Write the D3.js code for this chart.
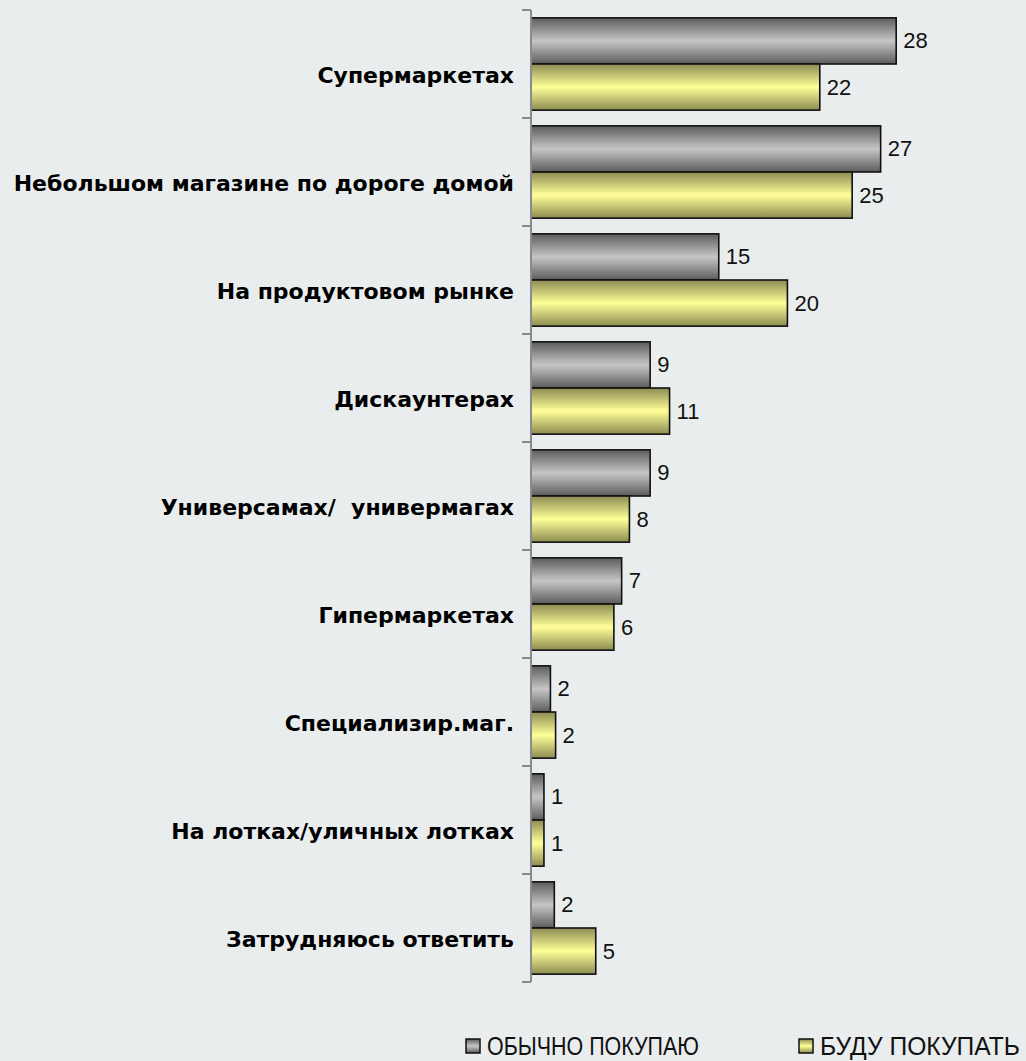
<!DOCTYPE html>
<html><head><meta charset="utf-8">
<script src="https://cdn.jsdelivr.net/npm/d3@7/dist/d3.min.js"></script>
<style>
html,body{margin:0;padding:0;background:#e9edee;}
svg{display:block;}
</style></head>
<body>
<script>
const categories = ["Супермаркетах","Небольшом магазине по дороге домой","На продуктовом рынке","Дискаунтерах","Универсамах/  универмагах","Гипермаркетах","Специализир.маг.","На лотках/уличных лотках","Затрудняюсь ответить"];
const seriesNames = ["ОБЫЧНО ПОКУПАЮ","БУДУ ПОКУПАТЬ"];
// bar lengths (labels show them rounded)
const usuallyBuy = [28.2,27.0,14.5,9.2,9.2,7.0,1.5,1.0,1.8];
const willBuy = [22.3,24.8,19.8,10.7,7.6,6.4,1.9,1.0,5.0];

const W = 1026, H = 1061;
const svg = d3.select("body").append("svg").attr("width", W).attr("height", H);

const defs = svg.append("defs");
function grad(id, edge, mid){
  const g = defs.append("linearGradient").attr("id", id).attr("x1",0).attr("y1",0).attr("x2",0).attr("y2",1);
  g.append("stop").attr("offset","0%").attr("stop-color",edge);
  g.append("stop").attr("offset","50%").attr("stop-color",mid);
  g.append("stop").attr("offset","100%").attr("stop-color",edge);
}
grad("gGray","#5c5c5c","#c6c6c6");
grad("gYellow","#8c8c52","#ffff99");
const fills = ["url(#gGray)","url(#gYellow)"];

const x0 = 531;
const x = d3.scaleLinear().domain([0, 30]).range([x0, 919.5]);
const y = d3.scaleBand().domain(categories).range([10, 982]).paddingInner(0).paddingOuter(0);
const inner = d3.scaleBand().domain([0,1]).range([0, y.bandwidth()]).paddingInner(0).paddingOuter(0.17);

const rows = categories.map((c,i)=>({c, v:[usuallyBuy[i], willBuy[i]]}));

const g = svg.append("g");
const grp = g.selectAll("g.row").data(rows).join("g").attr("class","row")
  .attr("transform", d=>`translate(0,${y(d.c)})`);

grp.selectAll("rect").data(d=>d.v.map((v,k)=>({v,k}))).join("rect")
  .attr("x", x(0))
  .attr("y", d=>inner(d.k))
  .attr("width", d=>x(d.v)-x(0))
  .attr("height", inner.bandwidth())
  .attr("fill", d=>fills[d.k])
  .attr("stroke","#111").attr("stroke-width",1.6);

grp.selectAll("text.val").data(d=>d.v.map((v,k)=>({v,k}))).join("text").attr("class","val")
  .attr("x", d=>x(d.v)+7)
  .attr("y", d=>inner(d.k)+inner.bandwidth()/2)
  .attr("dominant-baseline","central")
  .attr("font-family","'Liberation Sans', Arial, sans-serif")
  .attr("font-size",22).attr("fill","#111")
  .text(d=>Math.round(d.v));

// axis
const ag = svg.append("g").attr("transform",`translate(${x0},0)`);
ag.append("line").attr("x1",0).attr("x2",0).attr("y1",y.range()[0]).attr("y2",y.range()[1]).attr("stroke","#8a8a8a").attr("stroke-width",2);
const tickYs = categories.map(c=>y(c)).concat([y.range()[1]]);
ag.selectAll("line.tk").data(tickYs).join("line").attr("class","tk")
  .attr("x1",-9).attr("x2",0).attr("y1",d=>d).attr("y2",d=>d).attr("stroke","#8a8a8a").attr("stroke-width",2);

// category labels
svg.append("g").selectAll("text").data(categories).join("text")
  .attr("x", 514)
  .attr("y", d=>y(d)+y.bandwidth()/2+11)
  .attr("text-anchor","end").attr("dominant-baseline","central")
  .attr("font-family","'DejaVu Sans', Verdana, sans-serif").attr("font-weight","bold")
  .attr("font-size",22).attr("fill","#000")
  .attr("xml:space","preserve").style("white-space","pre")
  .text(d=>d);

// legend
const legX = [466, 799];
const legW = [212, 200];
const lg = svg.append("g").selectAll("g").data(seriesNames).join("g")
  .attr("transform",(d,i)=>`translate(${legX[i]},1046)`);
lg.append("rect").attr("x",0).attr("y",-7).attr("width",14).attr("height",14)
  .attr("fill",(d,i)=>fills[i]).attr("stroke","#111").attr("stroke-width",1.5);
lg.each(function(d,i){
  const tg = d3.select(this).append("g");
  const t = tg.append("text").attr("x",0).attr("y",0).attr("dominant-baseline","central")
    .attr("font-family","'Liberation Sans', Arial, sans-serif")
    .attr("font-size",26).attr("fill","#111").text(d);
  const natural = t.node().getComputedTextLength();
  const sx = legW[i] / natural;
  tg.attr("transform", `translate(21,0) scale(${sx},1)`);
});
</script>
</body></html>
